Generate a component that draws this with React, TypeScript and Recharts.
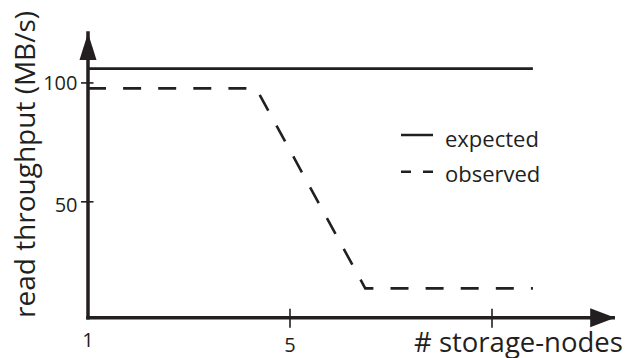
import React from 'react';
import { LineChart, Line, XAxis, YAxis, ReferenceDot, Customized } from 'recharts';

const INK = '#231f20';
const FONT = '"Open Sans", "Noto Sans", sans-serif';

// data
const storageNodes = [1, 4.33, 6.49, 9.81];
const expectedMBs = [106, 106, 106, 106];
const observedMBs = [97.7, 97.7, 13.6, 13.6];
const xTickValues = [1, 5, 9];
const xTickLabels = ['1', '5', ''];
const yTickValues = [50, 100];
const yTickLabels = ['50', '100'];
const seriesNames = ['expected', 'observed'];
const xAxisTitle = '# storage-nodes';
const yAxisTitle = 'read throughput (MB/s)';
const xDomain = [1, 11.4];
const yDomain = [1.26, 121];

const data = storageNodes.map((n, i) => ({
  n,
  expected: expectedMBs[i],
  observed: observedMBs[i],
}));

const XTick = (props: any) => {
  const { x, y, payload } = props;
  const idx = xTickValues.indexOf(payload.value);
  const label = idx >= 0 ? xTickLabels[idx] : '';
  return (
    <g>
      {idx > 0 && (
        <line x1={x} x2={x} y1={y - 9} y2={y + 10} stroke={INK} strokeWidth={1.6} />
      )}
      <text
        x={x}
        y={y + (idx === 0 ? 29.5 : 34)}
        textAnchor="middle"
        fontFamily={FONT}
        fontSize={20}
        fill={INK}
      >
        {label}
      </text>
    </g>
  );
};

const YTick = (props: any) => {
  const { x, y, payload } = props;
  const idx = yTickValues.indexOf(payload.value);
  const label = idx >= 0 ? yTickLabels[idx] : '';
  return (
    <g>
      <line x1={x - 7} x2={x + 5.5} y1={y} y2={y} stroke={INK} strokeWidth={1.6} />
      <text
        x={x - 10.5}
        y={y + (idx === 0 ? 10 : 7.3)}
        textAnchor="end"
        fontFamily={FONT}
        fontSize={20}
        fill={INK}
      >
        {label}
      </text>
    </g>
  );
};

const XArrow = (props: any) => {
  const { cx, cy } = props;
  return (
    <polygon
      points={`${cx + 2},${cy} ${cx - 23},${cy - 9.5} ${cx - 23},${cy + 9.5}`}
      fill={INK}
    />
  );
};

const YArrow = (props: any) => {
  const { cx, cy } = props;
  return (
    <polygon
      points={`${cx},${cy} ${cx - 8.5},${cy + 27} ${cx + 8.5},${cy + 27}`}
      fill={INK}
    />
  );
};

const Overlay = () => (
  <g>
    <text
      x={35}
      y={318}
      transform="rotate(-90 35 318)"
      fontFamily={FONT}
      fontSize={28}
      fill={INK}
    >
      {yAxisTitle}
    </text>
    <text x={414} y={351.5} fontFamily={FONT} fontSize={27.5} fill={INK}>
      {xAxisTitle}
    </text>
    <line x1={401} x2={433} y1={135} y2={135} stroke={INK} strokeWidth={2.5} />
    <text x={445} y={146.5} fontFamily={FONT} fontSize={22} fill={INK}>
      {seriesNames[0]}
    </text>
    <line
      x1={401}
      x2={433}
      y1={171.7}
      y2={171.7}
      stroke={INK}
      strokeWidth={2.5}
      strokeDasharray="10 12"
    />
    <text x={445} y={181.7} fontFamily={FONT} fontSize={22} fill={INK}>
      {seriesNames[1]}
    </text>
  </g>
);

export default function App() {
  return (
    <div style={{ position: 'absolute', left: 0, top: 0, width: 628, height: 358, background: '#fff' }}>
      <LineChart
        width={628}
        height={358}
        data={data}
        margin={{ top: 33, right: 14.8, left: 0, bottom: 0 }}
      >
        <XAxis
          dataKey="n"
          type="number"
          domain={xDomain}
          ticks={xTickValues}
          interval={0}
          allowDataOverflow
          height={40.3}
          tickSize={0}
          tickMargin={0}
          tickLine={false}
          axisLine={{ stroke: INK, strokeWidth: 3.5, strokeLinecap: 'square' }}
          tick={<XTick />}
        />
        <YAxis
          type="number"
          domain={yDomain}
          ticks={yTickValues}
          interval={0}
          allowDataOverflow
          width={88}
          tickSize={0}
          tickMargin={0}
          tickLine={false}
          axisLine={{ stroke: INK, strokeWidth: 3.5, strokeLinecap: 'square' }}
          tick={<YTick />}
        />
        <Line
          dataKey="expected"
          name={seriesNames[0]}
          type="linear"
          stroke={INK}
          strokeWidth={2.6}
          dot={false}
          activeDot={false}
          isAnimationActive={false}
        />
        <Line
          dataKey="observed"
          name={seriesNames[1]}
          type="linear"
          stroke={INK}
          strokeWidth={2.6}
          strokeDasharray="18 17.1"
          strokeLinejoin="miter"
          dot={false}
          activeDot={false}
          isAnimationActive={false}
        />
        <ReferenceDot x={xDomain[1]} y={yDomain[0]} r={0} ifOverflow="visible" shape={XArrow} />
        <ReferenceDot x={xDomain[0]} y={yDomain[1]} r={0} ifOverflow="visible" shape={YArrow} />
        <Customized component={<Overlay />} />
      </LineChart>
    </div>
  );
}
